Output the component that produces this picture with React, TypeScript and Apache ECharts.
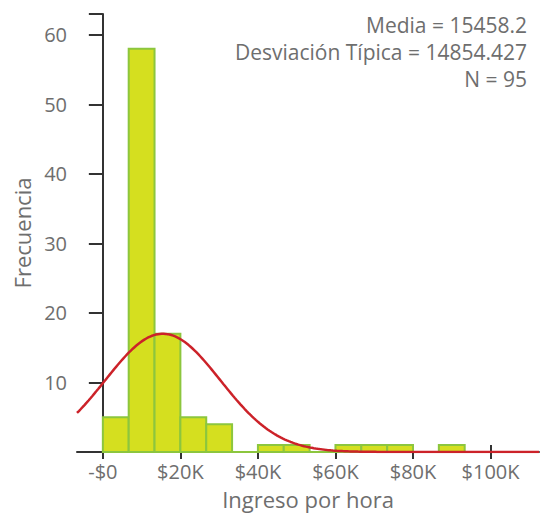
import React, { useEffect, useRef } from "react";
import * as echarts from "echarts";

// Histogram bins (lower bound, upper bound) in dollars and frequencies
const binStarts = [0, 6667, 13333, 20000, 26667, 33333, 40000, 46667, 53333, 60000, 66667, 73333, 80000, 86667];
const binEnds = [6667, 13333, 20000, 26667, 33333, 40000, 46667, 53333, 60000, 66667, 73333, 80000, 86667, 93333];
const counts = [5, 58, 17, 5, 4, 0, 1, 1, 0, 1, 1, 1, 0, 1];

const xTicks = [0, 20000, 40000, 60000, 80000, 100000];
const xTickLabels = ["-$0", "$20K", "$40K", "$60K", "$80K", "$100K"];
const yTickLabels = ["10", "20", "30", "40", "50", "60"];

// Statistics shown on the chart (used for the fitted normal curve)
const mean = 15458.2;
const sd = 14854.427;
const n = 95;
const binWidth = 20000 / 3;
const statLines = ["Media = 15458.2", "Desviación Típica = 14854.427", "N = 95"];

const X_MIN = -6667;
const X_MAX = 112500;
const Y_MAX = 63;

export default function App() {
  const ref = useRef<HTMLDivElement>(null);
  useEffect(() => {
    if (!ref.current) return;
    const chart = echarts.init(ref.current, null, { renderer: "svg" });
    const barData = counts.map((c, i) => [binStarts[i], binEnds[i], c]);
    const curve: number[][] = [];
    const steps = 240;
    for (let i = 0; i <= steps; i++) {
      const x = X_MIN + ((X_MAX - X_MIN) * i) / steps;
      const z = (x - mean) / sd;
      const y = (n * binWidth) / (sd * Math.sqrt(2 * Math.PI)) * Math.exp(-0.5 * z * z);
      curve.push([x, y]);
    }
    const font = "'Open Sans', 'Noto Sans', sans-serif";
    const textColor = "#6e6e6e";
    const axisColor = "#333";
    const tickStyle = { color: axisColor, width: 2 };
    chart.setOption({
      animation: false,
      grid: { left: 77, right: 3, top: 14, bottom: 65, containLabel: false, outerBoundsMode: "none" },
      xAxis: [
        {
          type: "value",
          min: X_MIN,
          max: X_MAX,
          name: "Ingreso por hora",
          nameLocation: "middle",
          nameGap: 36,
          nameMoveOverlap: false,
          nameTextStyle: { fontFamily: font, fontSize: 22, color: textColor },
          axisLine: { show: true, lineStyle: { color: axisColor, width: 2 } },
          axisTick: { show: false },
          axisLabel: {
            customValues: xTicks,
            margin: 9,
            fontFamily: font,
            fontSize: 20,
            color: textColor,
            formatter: (v: number) => xTickLabels[xTicks.indexOf(v)] ?? "",
          },
          splitLine: { show: false },
        },
        {
          type: "value",
          min: X_MIN,
          max: X_MAX,
          position: "bottom",
          offset: -7,
          axisLine: { show: true, lineStyle: { color: axisColor, width: 2, opacity: 0 } },
          axisTick: { show: true, length: 14, customValues: xTicks, lineStyle: tickStyle },
          axisLabel: { show: false },
          splitLine: { show: false },
        },
      ],
      yAxis: [
        {
          type: "value",
          min: 0,
          max: Y_MAX,
          interval: 10,
          name: "Frecuencia",
          nameLocation: "middle",
          nameGap: 44,
          nameMoveOverlap: false,
          nameTextStyle: { fontFamily: font, fontSize: 22, color: textColor },
          axisLine: { show: true, lineStyle: { color: axisColor, width: 2 } },
          axisTick: { show: false },
          axisLabel: {
            margin: 10,
            fontFamily: font,
            fontSize: 20,
            color: textColor,
            formatter: (v: number) => (yTickLabels.includes(String(v)) ? String(v) : ""),
          },
          splitLine: { show: false },
        },
        {
          type: "value",
          min: 0,
          max: Y_MAX,
          interval: 10,
          position: "left",
          offset: -7,
          axisLine: { show: true, lineStyle: { color: axisColor, width: 2, opacity: 0 } },
          axisTick: { show: true, length: 14, lineStyle: tickStyle },
          axisLabel: { show: false },
          splitLine: { show: false },
        },
      ],
      series: [
        {
          type: "custom",
          xAxisIndex: 0,
          yAxisIndex: 0,
          data: barData,
          renderItem: (params: any, api: any) => {
            const p0 = api.coord([api.value(0), api.value(2)]);
            const p1 = api.coord([api.value(1), 0]);
            return {
              type: "rect",
              shape: { x: p0[0], y: p0[1], width: p1[0] - p0[0], height: p1[1] - p0[1] },
              style: { fill: "#d5df1f", stroke: "#8cc63e", lineWidth: 2 },
            };
          },
          z: 2,
        },
        {
          type: "line",
          xAxisIndex: 0,
          yAxisIndex: 0,
          data: curve,
          showSymbol: false,
          smooth: false,
          clip: true,
          lineStyle: { color: "#cc2229", width: 2.5 },
          z: 3,
        },
      ],
      graphic: statLines.map((t, i) => ({
        type: "text",
        right: 15,
        top: 14 + i * 27,
        style: { text: t, fontFamily: font, fontSize: 21, fill: textColor, textAlign: "right" },
      })),
    });
    return () => chart.dispose();
  }, []);
  return (
    <div
      ref={ref}
      style={{ position: "absolute", left: 0, top: 0, width: 542, height: 517 }}
    />
  );
}
